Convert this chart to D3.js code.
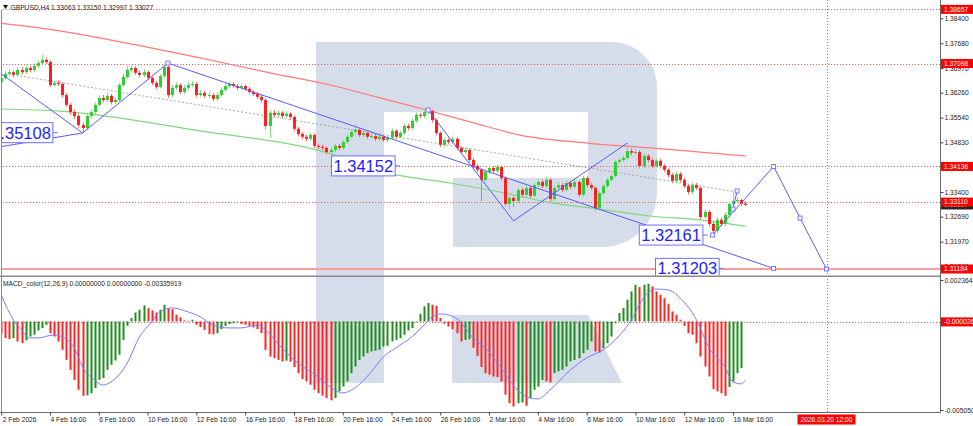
<!DOCTYPE html>
<html><head><meta charset="utf-8">
<script src="https://cdn.jsdelivr.net/npm/d3@7"></script>
<style>
body{margin:0;background:#fff;overflow:hidden;}
svg text{font-family:"Liberation Sans",Arial,sans-serif;}
</style></head><body>
<svg id="c" width="973" height="426"></svg>
<script>
// ---------------- DATA ----------------
const symbolTitle = "GBPUSD,H4  1.33063 1.33150 1.32997 1.33027";
const macdTitle = "MACD_color(12,26,9) 0.00000000 0.00000000 -0.00335919";
const firstIndex = 4;          // bar index of first visible candle (2 Feb 2026 00:00 = 0)
const firstOpen = 1.3657;
const closes = [
1.3668,1.3680,1.3685,1.3677,1.3691,1.3685,1.3697,1.3691,1.3703,1.3711,
1.3720,1.3714,1.3648,1.3654,1.3651,1.3619,1.3591,1.3570,1.3559,1.3533,
1.3524,1.3559,1.3570,1.3591,1.3611,1.3605,1.3617,1.3599,1.3605,1.3648,
1.3671,1.3691,1.3697,1.3683,1.3677,1.3685,1.3668,1.3654,1.3642,1.3674,
1.3700,1.3619,1.3640,1.3648,1.3628,1.3640,1.3648,1.3651,1.3619,1.3625,
1.3617,1.3619,1.3608,1.3619,1.3634,1.3645,1.3651,1.3645,1.3640,1.3645,
1.3637,1.3628,1.3622,1.3614,1.3605,1.3530,1.3568,1.3562,1.3568,1.3559,
1.3565,1.3556,1.3522,1.3507,1.3499,1.3493,1.3504,1.3473,1.3470,1.3467,
1.3455,1.3461,1.3473,1.3467,1.3484,1.3499,1.3513,1.3519,1.3504,1.3510,
1.3499,1.3501,1.3493,1.3499,1.3490,1.3496,1.3516,1.3499,1.3510,1.3530,
1.3524,1.3545,1.3562,1.3559,1.3570,1.3573,1.3547,1.3510,1.3476,1.3490,
1.3484,1.3493,1.3467,1.3455,1.3461,1.3432,1.3415,1.3404,1.3375,1.3398,
1.3409,1.3401,1.3412,1.3380,1.3306,1.3323,1.3314,1.3346,1.3332,1.3352,
1.3329,1.3360,1.3369,1.3357,1.3375,1.3320,1.3352,1.3360,1.3346,1.3366,
1.3355,1.3369,1.3332,1.3380,1.3360,1.3352,1.3294,1.3337,1.3357,1.3375,
1.3386,1.3427,1.3432,1.3438,1.3458,1.3453,1.3455,1.3415,1.3444,1.3432,
1.3415,1.3430,1.3415,1.3404,1.3389,1.3372,1.3392,1.3375,1.3357,1.3340,
1.3360,1.3352,1.3268,1.3283,1.3248,1.3228,1.3260,1.3248,1.3274,1.3306,
1.3314,1.3317,1.33063,1.33027];
const highs = [
1.3677,1.3688,1.3694,1.3690,1.3699,1.3700,1.3705,1.3703,1.3710,1.3718,
1.3734,1.3727,1.3719,1.3660,1.3662,1.3656,1.3625,1.3597,1.3578,1.3565,
1.3540,1.3565,1.3578,1.3598,1.3618,1.3620,1.3625,1.3622,1.3612,1.3655,
1.3680,1.3703,1.3704,1.3702,1.3690,1.3693,1.3690,1.3673,1.3660,1.3680,
1.3707,1.3711,1.3648,1.3656,1.3653,1.3647,1.3656,1.3660,1.3657,1.3633,
1.3631,1.3627,1.3625,1.3626,1.3641,1.3652,1.3658,1.3657,1.3651,1.3652,
1.3650,1.3642,1.3634,1.3628,1.3620,1.3610,1.3575,1.3576,1.3575,1.3573,
1.3572,1.3570,1.3561,1.3528,1.3513,1.3505,1.3510,1.3509,1.3480,1.3477,
1.3472,1.3468,1.3480,1.3479,1.3491,1.3506,1.3520,1.3536,1.3525,1.3518,
1.3515,1.3509,1.3507,1.3506,1.3504,1.3503,1.3523,1.3521,1.3517,1.3537,
1.3536,1.3552,1.3569,1.3568,1.3577,1.3576,1.3578,1.3552,1.3515,1.3497,
1.3496,1.3500,1.3498,1.3472,1.3468,1.3466,1.3438,1.3421,1.3409,1.3405,
1.3417,1.3415,1.3419,1.3417,1.3385,1.3330,1.3329,1.3353,1.3352,1.3359,
1.3357,1.3367,1.3377,1.3375,1.3383,1.3380,1.3359,1.3368,1.3366,1.3373,
1.3372,1.3376,1.3374,1.3387,1.3385,1.3366,1.3357,1.3344,1.3364,1.3382,
1.3394,1.3434,1.3440,1.3446,1.3481,1.3466,1.3463,1.3461,1.3451,1.3450,
1.3438,1.3437,1.3436,1.3421,1.3410,1.3395,1.3399,1.3398,1.3381,1.3363,
1.3367,1.3366,1.3357,1.3290,1.3288,1.3254,1.3267,1.3266,1.3281,1.3313,
1.3338,1.3326,1.3322,1.33150];
const lows = [
1.3650,1.3662,1.3674,1.3670,1.3672,1.3678,1.3680,1.3684,1.3686,1.3697,
1.3706,1.3708,1.3642,1.3643,1.3645,1.3612,1.3585,1.3562,1.3550,1.3525,
1.3510,1.3518,1.3552,1.3565,1.3586,1.3598,1.3600,1.3592,1.3593,1.3600,
1.3643,1.3665,1.3685,1.3677,1.3670,1.3671,1.3662,1.3648,1.3636,1.3638,
1.3668,1.3611,1.3612,1.3634,1.3622,1.3622,1.3634,1.3642,1.3612,1.3613,
1.3610,1.3610,1.3601,1.3602,1.3613,1.3628,1.3639,1.3639,1.3633,1.3634,
1.3631,1.3622,1.3616,1.3607,1.3598,1.3519,1.3496,1.3555,1.3556,1.3552,
1.3553,1.3549,1.3515,1.3500,1.3492,1.3486,1.3487,1.3466,1.3463,1.3460,
1.3448,1.3449,1.3455,1.3460,1.3461,1.3478,1.3493,1.3507,1.3498,1.3497,
1.3492,1.3493,1.3486,1.3487,1.3484,1.3484,1.3490,1.3493,1.3493,1.3505,
1.3517,1.3519,1.3539,1.3552,1.3553,1.3563,1.3540,1.3503,1.3469,1.3470,
1.3477,1.3478,1.3460,1.3448,1.3449,1.3425,1.3408,1.3396,1.3314,1.3368,
1.3392,1.3394,1.3395,1.3373,1.3299,1.3288,1.3297,1.3308,1.3325,1.3326,
1.3322,1.3323,1.3354,1.3350,1.3351,1.3311,1.3314,1.3346,1.3339,1.3340,
1.3348,1.3349,1.3325,1.3326,1.3353,1.3345,1.3286,1.3288,1.3331,1.3351,
1.3369,1.3380,1.3421,1.3426,1.3432,1.3446,1.3447,1.3408,1.3409,1.3425,
1.3408,1.3409,1.3408,1.3397,1.3382,1.3365,1.3366,1.3368,1.3350,1.3333,
1.3334,1.3345,1.3261,1.3262,1.3241,1.3216,1.3222,1.3241,1.3242,1.3268,
1.3300,1.3308,1.3299,1.32997];

// MACD histogram, from bar index 4
const macdHist = [
-0.00067,-0.00095,-0.00101,-0.00095,-0.00114,-0.00124,-0.00108,-0.00086,-0.00076,-0.00051,
-0.00038,-0.00019,-0.00067,-0.00086,-0.00114,-0.00162,-0.00219,-0.00276,-0.00333,-0.00390,
-0.00424,-0.00422,-0.00409,-0.00380,-0.00333,-0.00323,-0.00276,-0.00247,-0.00222,-0.00190,
-0.00105,-0.00025,0.00019,0.00051,0.00067,0.00091,0.00076,0.00063,0.00051,0.00067,
0.00095,0.00076,0.00070,0.00038,0.00023,0.00006,0.00004,0.00010,-0.00019,-0.00032,
-0.00048,-0.00072,-0.00074,-0.00067,-0.00044,-0.00025,-0.00015,-0.00010,-0.00006,-0.00015,
-0.00019,-0.00025,-0.00034,-0.00044,-0.00067,-0.00162,-0.00200,-0.00209,-0.00219,-0.00228,
-0.00224,-0.00230,-0.00260,-0.00295,-0.00329,-0.00342,-0.00361,-0.00390,-0.00409,-0.00424,
-0.00437,-0.00450,-0.00437,-0.00399,-0.00371,-0.00342,-0.00295,-0.00257,-0.00219,-0.00200,
-0.00181,-0.00171,-0.00167,-0.00162,-0.00143,-0.00139,-0.00114,-0.00105,-0.00095,-0.00076,
-0.00051,-0.00038,-0.00004,0.00044,0.00086,0.00105,0.00095,0.00089,0.00019,-0.00013,
-0.00029,-0.00044,-0.00067,-0.00114,-0.00105,-0.00101,-0.00150,-0.00196,-0.00260,-0.00295,
-0.00304,-0.00314,-0.00317,-0.00342,-0.00418,-0.00466,-0.00485,-0.00466,-0.00462,-0.00481,
-0.00437,-0.00390,-0.00371,-0.00333,-0.00342,-0.00348,-0.00295,-0.00285,-0.00276,-0.00257,
-0.00228,-0.00219,-0.00209,-0.00181,-0.00162,-0.00114,-0.00171,-0.00177,-0.00152,-0.00124,
-0.00086,-0.00010,0.00048,0.00076,0.00124,0.00171,0.00209,0.00196,0.00209,0.00215,
0.00200,0.00171,0.00152,0.00133,0.00101,0.00057,0.00038,0.00010,-0.00025,-0.00067,
-0.00076,-0.00124,-0.00200,-0.00257,-0.00314,-0.00385,-0.00399,-0.00409,-0.00424,-0.00374,
-0.00342,-0.00295,-0.00266];
const signalIdx = [4,7,9,11,13,17,19,22,24,27,29,31,35,38,41,43,46,50,53,56,60,63,67,69,73,77,82,86,88,91,95,98,101,105,108,110,112,114,117,119,124,127,131,134,136,139,144,148,152,155,159,162,165,168,171,175,178,182,184,186,187];
const signalVal = [0.00151,0.00009,-0.00048,-0.00094,-0.00094,-0.00077,-0.00088,-0.00151,-0.00260,-0.00334,-0.00363,-0.00345,-0.00237,-0.00088,-0.00003,0.00054,0.00077,0.00054,0.00026,-0.00020,-0.00037,-0.00037,-0.00020,-0.00048,-0.00151,-0.00237,-0.00317,-0.00391,-0.00408,-0.00379,-0.00288,-0.00202,-0.00151,-0.00088,-0.00020,0.00026,0.00043,0.00037,-0.00003,-0.00066,-0.00174,-0.00265,-0.00391,-0.00436,-0.00442,-0.00391,-0.00277,-0.00208,-0.00163,-0.00106,0.00009,0.00134,0.00185,0.00180,0.00134,0.00009,-0.00145,-0.00260,-0.00345,-0.00356,-0.00336];

// moving averages (sampled points: bar index, price)
const maSlowIdx = [3.7,16,30.7,52.9,70.1,84.9,97.2,108.7,119.3,131.6,148.1,163.6,175.9,187];
const maSlowVal = [1.3826,1.3808,1.3778,1.3726,1.3683,1.3648,1.3611,1.3576,1.3542,1.3504,1.3481,1.3467,1.3455,1.3444];
const maFastIdx = [3.7,18.5,52.9,83.6,98.9,114.4,126.7,139.7,151.3,163.6,175.9,187];
const maFastVal = [1.3579,1.3573,1.3516,1.3455,1.3395,1.3366,1.3340,1.3308,1.3291,1.3271,1.3260,1.3242];
const grayTrend = [[8.6,1.3674],[185,1.3340]];

// drawn analysis lines (bar index, price)
const zigA = [[3.7,1.3683],[24,1.3510],[45,1.3711],[194,1.31203]];
const zigB = [[3.7,1.3470],[24,1.3510]];
const zigC = [[109,1.3576],[130,1.3257],[158,1.3481]];
const zigD = [[179,1.32161],[194,1.34136],[200.5,1.3265],[207,1.31184]];
const zigE = [[184,1.3291],[185,1.3343]];
const vertexMarks = [[45,1.3711],[109,1.3576],[179,1.32161],[194,1.34136],[200.5,1.3265],[207,1.31184],[194,1.31203],[184,1.3291],[185,1.3343]];
const priceLabels = [
  {text:"1.35108", price:1.35108, at:16.7},
  {text:"1.34152", price:1.34152, at:100.9},
  {text:"1.32161", price:1.32161, at:176.6},
  {text:"1.31203", price:1.31203, at:180.6}];

// horizontal levels
const dottedLevels = [1.38657,1.37098,1.34136,1.33110];
const solidLevel = 1.31184;
const redBoxes = [1.38657,1.37098,1.34136,1.33110,1.31184];
const bidLevel = 1.33027;
const priceTicks = [1.38400,1.37680,1.36970,1.36260,1.35540,1.34830,1.34120,1.33400,1.32690,1.31970,1.31260];
const macdTicks = [0.0023644,-0.0050508];
const macdLevel = -0.0000260;
const timeIdx = [4,16,28,40,52,64,76,88,100,112,124,136,148,160,172,184];
const timeLabels = ["2 Feb 2026","4 Feb 16:00","6 Feb 16:00","10 Feb 16:00","12 Feb 16:00","16 Feb 16:00","18 Feb 16:00","20 Feb 16:00","24 Feb 16:00","26 Feb 16:00","2 Mar 16:00","4 Mar 16:00","6 Mar 16:00","10 Mar 16:00","12 Mar 16:00","16 Mar 16:00"];
const cursorIdx = 207;
const cursorLabel = "2026.03.20 12:00";

// ---------------- LAYOUT ----------------
const W = 973, H = 426;
const plotR = 940.5, mainTop = 0, mainBot = 275.5, macdTop = 277, macdBot = 412.5;
const FS = 6.7;

const x = d3.scaleLinear().domain([16,184]).range([50,733]);
const y = d3.scaleLinear().domain([1.384,1.3197]).range([18.3,241.7]);
const ym = d3.scaleLinear().domain([0.0023644,-0.0050508]).range([280,410]);

const svg = d3.select("#c");
const defs = svg.append("defs");
defs.append("clipPath").attr("id","cm").append("rect").attr("x",2).attr("y",mainTop).attr("width",plotR-2).attr("height",mainBot-mainTop);
defs.append("clipPath").attr("id","cd").append("rect").attr("x",2).attr("y",macdTop).attr("width",plotR-2).attr("height",macdBot-macdTop);
defs.append("clipPath").attr("id","ca").append("rect").attr("x",0).attr("y",0).attr("width",W).attr("height",H);

// watermark (decorative "R" logo)
const wm = svg.append("g").attr("fill","#d4dde9");
wm.append("rect").attr("x",316).attr("y",42).attr("width",68).attr("height",341);
wm.append("path").attr("d","M316,42 H612 A45,45 0 0 1 657,87 V192 A55,55 0 0 1 602,247 H453 V178 H588 V112 H316 Z");
wm.append("path").attr("d","M452,315 H588 L622,383 H452 Z");

// ---------- main pane ----------
const gm = svg.append("g").attr("clip-path","url(#cm)");
// solid level
gm.append("line").attr("x1",0).attr("x2",plotR).attr("y1",y(solidLevel)).attr("y2",y(solidLevel))
  .attr("stroke","#ff9c9c").attr("stroke-width",2);
// dotted levels
gm.selectAll("line.lvl").data(dottedLevels).join("line").attr("class","lvl")
  .attr("x1",0).attr("x2",plotR).attr("y1",d=>Math.round(y(d))+0.5).attr("y2",d=>Math.round(y(d))+0.5)
  .attr("stroke","#ff5050").attr("stroke-dasharray","1,2").attr("stroke-width",1);

// moving averages
const lineGen = d3.line().x(d=>x(d[0])).y(d=>y(d[1])).curve(d3.curveMonotoneX);
gm.append("path").attr("d",lineGen(d3.zip(maSlowIdx,maSlowVal))).attr("fill","none").attr("stroke","#ff7a7a").attr("stroke-width",1.2);
gm.append("path").attr("d",lineGen(d3.zip(maFastIdx,maFastVal))).attr("fill","none").attr("stroke","#7fd77f").attr("stroke-width",1.2);
gm.append("path").attr("d",d3.line().x(d=>x(d[0])).y(d=>y(d[1]))(grayTrend)).attr("fill","none")
  .attr("stroke","#a8a8a8").attr("stroke-dasharray","2,2").attr("stroke-width",1);

// candles
const bars = closes.map((c,k)=>({i:firstIndex+k, o: k===0?firstOpen:closes[k-1], c, h:highs[k], l:lows[k]}));
const cg = gm.append("g");
bars.forEach(b=>{
  const cx = Math.round(x(b.i))+0.5;
  const up = b.c >= b.o;
  const col = up ? "#2fcf2f" : "#ff1f1f";
  cg.append("line").attr("x1",cx).attr("x2",cx).attr("y1",y(b.h)).attr("y2",y(b.l))
    .attr("stroke", up ? "#7ee07e" : "#ff7070").attr("stroke-width",1);
  const yt = y(Math.max(b.o,b.c)), yb = y(Math.min(b.o,b.c));
  cg.append("rect").attr("x",cx-1.5).attr("width",3).attr("y",yt).attr("height",Math.max(1,yb-yt)).attr("fill",col);
});

// analysis lines
const pl = d3.line().x(d=>x(d[0])).y(d=>y(d[1]));
[zigA,zigB,zigC,zigD,zigE].forEach(z=>{
  gm.append("path").attr("d",pl(z)).attr("fill","none").attr("stroke","#5a5aff").attr("stroke-width",1);
});
gm.selectAll("rect.vx").data(vertexMarks).join("rect").attr("class","vx")
  .attr("x",d=>x(d[0])-2).attr("y",d=>y(d[1])-2).attr("width",4).attr("height",4)
  .attr("fill","#fff").attr("stroke","#5a5aff").attr("stroke-width",0.8);

// price labels
priceLabels.forEach(L=>{
  const g = gm.append("g").attr("transform",`translate(${x(L.at)},${y(L.price)})`);
  const r = g.append("rect").attr("fill","#fff").attr("stroke","#7070ff").attr("stroke-width",1);
  const t = g.append("text").text(L.text).attr("x",-2).attr("y",0).attr("dy","0.36em")
    .attr("text-anchor","end").attr("font-size",16.5).attr("fill","#1e1eff");
  const w = t.node().getComputedTextLength();
  r.attr("x",-w-4).attr("y",-10).attr("width",w+4).attr("height",20);
  g.append("line").attr("x1",0).attr("x2",5).attr("y1",0).attr("y2",0).attr("stroke","#7070ff");
});

// title
svg.append("path").attr("d","M3,5 L8,5 L5.5,9 Z").attr("fill","#111");
svg.append("text").attr("x",10.5).attr("y",9.5).attr("font-size",FS).attr("fill","#222").text(symbolTitle);

// ---------- MACD pane ----------
const gd = svg.append("g").attr("clip-path","url(#cd)");
const z0 = ym(0);
gd.append("line").attr("x1",0).attr("x2",plotR).attr("y1",Math.round(ym(macdLevel))+0.5).attr("y2",Math.round(ym(macdLevel))+0.5)
  .attr("stroke","#ff5050").attr("stroke-dasharray","1,2");
gd.selectAll("rect.h").data(macdHist).join("rect").attr("class","h")
  .attr("x",(d,k)=>Math.round(x(firstIndex+k))-0.5).attr("width",2)
  .attr("y",d=>Math.min(ym(d),z0)).attr("height",d=>Math.abs(ym(d)-z0))
  .attr("fill",(d,k)=> (k>0 && d>macdHist[k-1]) ? "#1e8f1e" : "#ff2424");
gd.append("path").attr("d",d3.line().x(d=>x(d[0])).y(d=>ym(d[1])).curve(d3.curveMonotoneX)(d3.zip(signalIdx,signalVal)))
  .attr("fill","none").attr("stroke","#7b7bff").attr("stroke-width",1);
svg.append("text").attr("x",3).attr("y",285.5).attr("font-size",FS).attr("fill","#222").text(macdTitle);

// cursor vertical line (both panes)
svg.append("line").attr("x1",Math.round(x(cursorIdx))+0.5).attr("x2",Math.round(x(cursorIdx))+0.5)
  .attr("y1",0).attr("y2",macdBot).attr("stroke","#ff5050").attr("stroke-dasharray","1,2");

// ---------- frames ----------
svg.append("rect").attr("x",0).attr("y",mainBot).attr("width",plotR).attr("height",1.5).attr("fill","#8a8a8a");
svg.append("line").attr("x1",1.5).attr("x2",1.5).attr("y1",10).attr("y2",macdBot).attr("stroke","#8a8a8a");
svg.append("line").attr("x1",plotR).attr("x2",plotR).attr("y1",0).attr("y2",macdBot).attr("stroke","#6a6a6a");
svg.append("line").attr("x1",0).attr("x2",plotR).attr("y1",macdBot).attr("y2",macdBot).attr("stroke","#6a6a6a");

// ---------- axes ----------
const ax = svg.append("g").attr("clip-path","url(#ca)");
const ra = ax.append("g").attr("transform",`translate(${plotR},0)`)
  .call(d3.axisRight(y).tickValues(priceTicks).tickFormat(d3.format(".5f")).tickSize(3).tickPadding(1));
const ma = ax.append("g").attr("transform",`translate(${plotR},0)`)
  .call(d3.axisRight(ym).tickValues(macdTicks).tickFormat(d=>d>0?d.toFixed(7):d.toFixed(7)).tickSize(3).tickPadding(1));
[ra,ma].forEach(a=>{
  a.select(".domain").remove();
  a.selectAll("line").attr("stroke","#444");
  a.selectAll("text").attr("font-size",FS).attr("fill","#222").attr("font-family","Liberation Sans, Arial, sans-serif");
});
const ba = ax.append("g").attr("transform",`translate(0,${macdBot})`)
  .call(d3.axisBottom(x).tickValues(timeIdx).tickFormat((d,k)=>timeLabels[k]).tickSize(3).tickPadding(2));
ba.select(".domain").remove();
ba.selectAll("line").attr("stroke","#444");
ba.selectAll("text").attr("font-size",FS).attr("fill","#222").attr("text-anchor","start")
  .attr("font-family","Liberation Sans, Arial, sans-serif").attr("x",(d,k)=>k===0?1:0);

// bid box (dark) under the red boxes
function box(v, scale, fill, txt){
  const cy = scale(v);
  ax.append("rect").attr("x",plotR+0.5).attr("y",cy-4.5).attr("width",W-plotR).attr("height",9).attr("fill",fill);
  ax.append("text").attr("x",plotR+3.5).attr("y",cy).attr("dy","0.35em").attr("font-size",FS).attr("fill","#fff").text(txt);
}
box(bidLevel, y, "#262626", bidLevel.toFixed(5));
redBoxes.forEach(v=>box(v, y, "#ff0000", v.toFixed(5)));
box(macdLevel, ym, "#ff0000", macdLevel.toFixed(7));

// cursor time box
const cxp = x(cursorIdx);
ax.append("rect").attr("x",cxp-29).attr("y",414.5).attr("width",58).attr("height",10).attr("fill","#ff0000");
ax.append("text").attr("x",cxp).attr("y",419.5).attr("dy","0.35em").attr("text-anchor","middle").attr("font-size",FS).attr("fill","#fff").text(cursorLabel);
</script>
</body></html>
